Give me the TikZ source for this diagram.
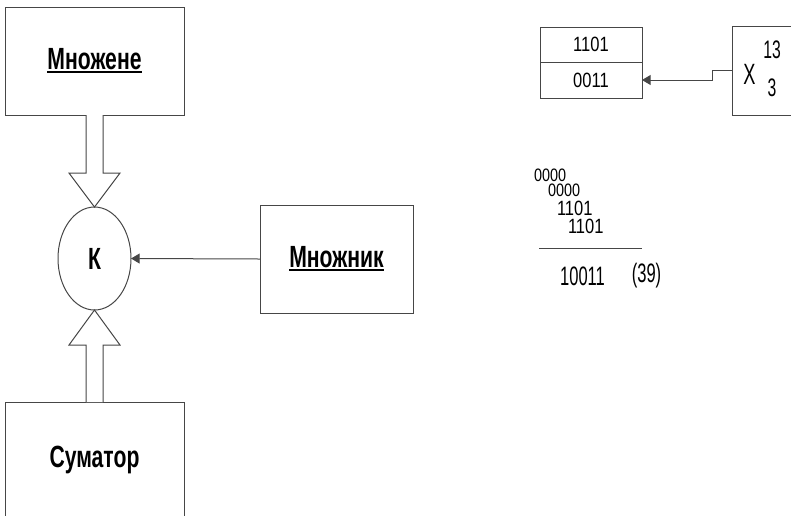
\documentclass[tikz,border=0pt]{standalone}
\usepackage{fontspec}
\setmainfont{Liberation Sans}
\newfontfamily\lblfont[FakeStretch=0.69]{Liberation Sans}
\newfontfamily\numfont[FakeStretch=0.8]{Liberation Sans}
\newfontfamily\nnumfont[FakeStretch=0.62]{Liberation Sans}
\usetikzlibrary{arrows.meta,positioning,shapes.geometric,calc}
\definecolor{lnGray}{RGB}{70,70,70}
\newcommand\ulined[1]{\setbox0\hbox{#1}\rlap{\rule[-2.6pt]{\wd0}{1.4pt}}\box0}

\begin{document}
\begin{tikzpicture}[
  x=0.75pt,y=-0.75pt,
  >={Triangle[length=6.5pt,width=7.5pt]},
  every node/.style={outer sep=0pt},
  block/.style={draw=lnGray,line width=0.75pt,align=center,
                font=\lblfont\bfseries\fontsize{23}{26}\selectfont},
  reg/.style={draw=lnGray,line width=0.75pt,minimum width=76.5pt,
              font=\numfont\fontsize{15.5}{16}\selectfont},
  num/.style={inner sep=0pt,font=\numfont\fontsize{#1}{#1}\selectfont},
  nnum/.style={inner sep=0pt,font=\nnumfont\fontsize{#1}{#1}\selectfont},
  hollow/.style={draw=lnGray,line width=0.75pt,fill=white},
  wire/.style={draw=lnGray,line width=0.75pt}
]
\useasboundingbox (0,0) rectangle (791,515);

% left part
\node[block,minimum width=134.25pt,minimum height=81pt] (mcand) at (94.5,61) {\ulined{Множене}};
\node[block,ellipse,minimum width=54.75pt,minimum height=77.25pt,inner sep=0pt] (K) at (94.5,258.5) {К};
\node[block,minimum width=134.25pt,minimum height=87pt] (summ) at (94.5,460) {\raisebox{3pt}{Суматор}};
\node[block,minimum width=114.75pt,minimum height=81pt] (mlier) at (336.5,259) {\ulined{Множник}};

\draw[hollow] ($(mcand.south)+(-8.5,0)$) -- ($(K.north)+(-8.5,-34)$) -- ++(-17,0)
  -- (K.north) -- ($(K.north)+(25.5,-34)$) -- ++(-17,0) -- ($(mcand.south)+(8.5,0)$);
\draw[hollow] ($(summ.north)+(-8.5,0)$) -- ($(K.south)+(-8.5,35)$) -- ++(-17,0)
  -- (K.south) -- ($(K.south)+(25.5,35)$) -- ++(-17,0) -- ($(summ.north)+(8.5,0)$);
\draw[wire,->] (mlier.west) -- (K.east);

% register and operands
\node[reg,minimum height=26.25pt] (regA) at (591,44.5) {1101};
\node[reg,minimum height=27pt]    (regB) at (591,80) {0011};
\node[draw=lnGray,line width=0.75pt,minimum width=51pt,minimum height=66.75pt] (xbox) at (766,70.5) {};
\node[nnum=22] (xsign) at (749.5,74) {X};
\node[nnum=19] (opA)   at (772,50) {13};
\node[nnum=19] (opB)   at (772,88) {3};
\draw[wire,->] (xbox.west) -- ++(-20,0) |- (regB.east);

% partial products
\node[num=13.5,anchor=west] (pp1) at (534,175) {0000};
\node[num=13.5,anchor=west] (pp2) at (548,190) {0000};
\node[num=15.5,anchor=west] (pp3) at (557,208) {1101};
\node[num=15.5,anchor=west] (pp4) at (568,226) {1101};
\coordinate (ruleL) at (539,248);
\coordinate (ruleR) at (642,248);
\draw[wire] (ruleL) -- (ruleR);
\node[nnum=20] (sumres) at (582.5,276) {10011};
\node[nnum=20] (sumdec) at (646.5,276) {(39)};
\end{tikzpicture}
\end{document}
